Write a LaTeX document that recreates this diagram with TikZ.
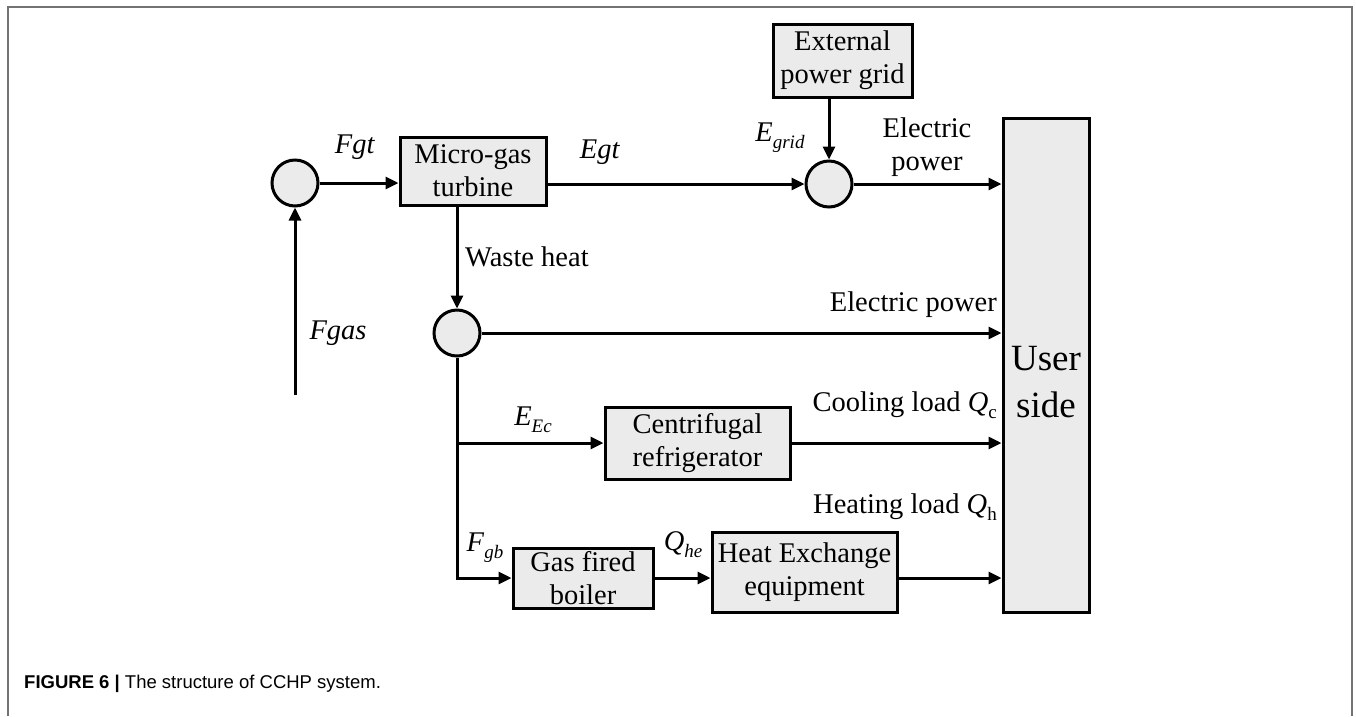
\documentclass[tikz,border=0pt]{standalone}
\usepackage{fontspec}
\setmainfont{Liberation Serif}
\newfontfamily\capfont{Liberation Sans}
\usetikzlibrary{arrows.meta,calc}
\definecolor{boxfill}{gray}{0.92}
\definecolor{framegray}{gray}{0.45}
\newcommand\lsub[1]{\raisebox{-7pt}{\fontsize{19}{19}\selectfont #1}}
\begin{document}
\begin{tikzpicture}[x=1pt,y=-1pt,
  font=\fontsize{28.5}{33}\selectfont,
  blk/.style={draw, line width=3pt, fill=boxfill, align=center, inner sep=0pt},
  junc/.style={circle, draw, line width=3pt, fill=boxfill, minimum size=46pt, inner sep=0pt},
  flow/.style={line width=3pt, -{Triangle[length=13pt,width=12pt]}},
  lbl/.style={inner sep=0pt}]
\useasboundingbox (0,0) rectangle (1356,716);
% frame
\draw[framegray, line width=1.5pt] (8,716) -- (8,7) -- (1352,7) -- (1352,716);
% blocks
\node[blk, minimum width=146pt, minimum height=68pt] (turb) at (473,171) {Micro-gas\\turbine};
\node[blk, minimum width=139pt, minimum height=73pt] (grid) at (842.5,60.5) {External\\power grid};
\node[blk, minimum width=86pt, minimum height=494pt] (user) at (1046,365) {};
\node[lbl, align=center, font=\fontsize{37}{47}\selectfont] (usertxt) at (1046,382) {User\\side};
\node[blk, minimum width=185pt, minimum height=72pt] (cent) at (697.5,443) {Centrifugal\\refrigerator};
\node[blk, minimum width=140pt, minimum height=60pt] (boil) at (583,578) {Gas fired\\boiler};
\node[blk, minimum width=185pt, minimum height=80pt] (hx) at (804.5,572) {Heat Exchange\\equipment};
% junctions
\node[junc] (c1) at (295,183) {};
\node[junc] (c2) at (829,184) {};
\node[junc] (c3) at (457,333) {};
\coordinate (fgas) at (295,395);
% connectors
\draw[flow] (fgas) -- (c1);
\draw[flow] (c1) -- (c1 -| turb.west);
\draw[flow] (turb.east |- c2) -- (c2);
\draw[flow] (grid.south -| c2) -- (c2);
\draw[flow] (c2) -- (c2 -| user.west);
\draw[flow] (turb.south -| c3) -- (c3);
\draw[flow] (c3) -- (c3 -| user.west);
\draw[flow] (c3.south) |- (boil.west);
\draw[flow] (c3 |- cent.west) -- (cent.west);
\draw[flow] (cent.east) -- (cent.east -| user.west);
\draw[flow] (boil.east) -- (boil.east -| hx.west);
\draw[flow] (hx.east |- boil) -- (boil -| user.west);
% labels
\node[lbl] (lfgt) at (355,147) {\textit{Fgt}};
\node[lbl] (legt) at (600,152) {\textit{Egt}};
\node[lbl] (lfgas) at (338,333) {\textit{Fgas}};
\node[lbl] (legrid) at (780,138) {\textit{E}\lsub{\textit{grid}}};
\node[lbl, align=center] (lep1) at (927,147) {Electric\\power};
\node[lbl, anchor=west] (lwaste) at (465,257) {Waste heat};
\node[lbl, anchor=east] (lep2) at (997,305) {Electric power};
\node[lbl] (leec) at (533,420) {\textit{E}\lsub{\textit{Ec}}};
\node[lbl, anchor=east] (lcool) at (997,405) {Cooling load \textit{Q}\lsub{c}};
\node[lbl, anchor=east] (lheat) at (997,507) {Heating load \textit{Q}\lsub{h}};
\node[lbl] (lfgb) at (485,548) {\textit{F}\lsub{\textit{gb}}};
\node[lbl] (lqhe) at (683,545) {\textit{Q}\lsub{\textit{he}}};
% caption
\node[lbl, anchor=base west, font=\capfont\fontsize{18.5}{20}\selectfont] (cap) at (24,688) {\textbf{FIGURE 6 |} The structure of CCHP system.};
\end{tikzpicture}
\end{document}
